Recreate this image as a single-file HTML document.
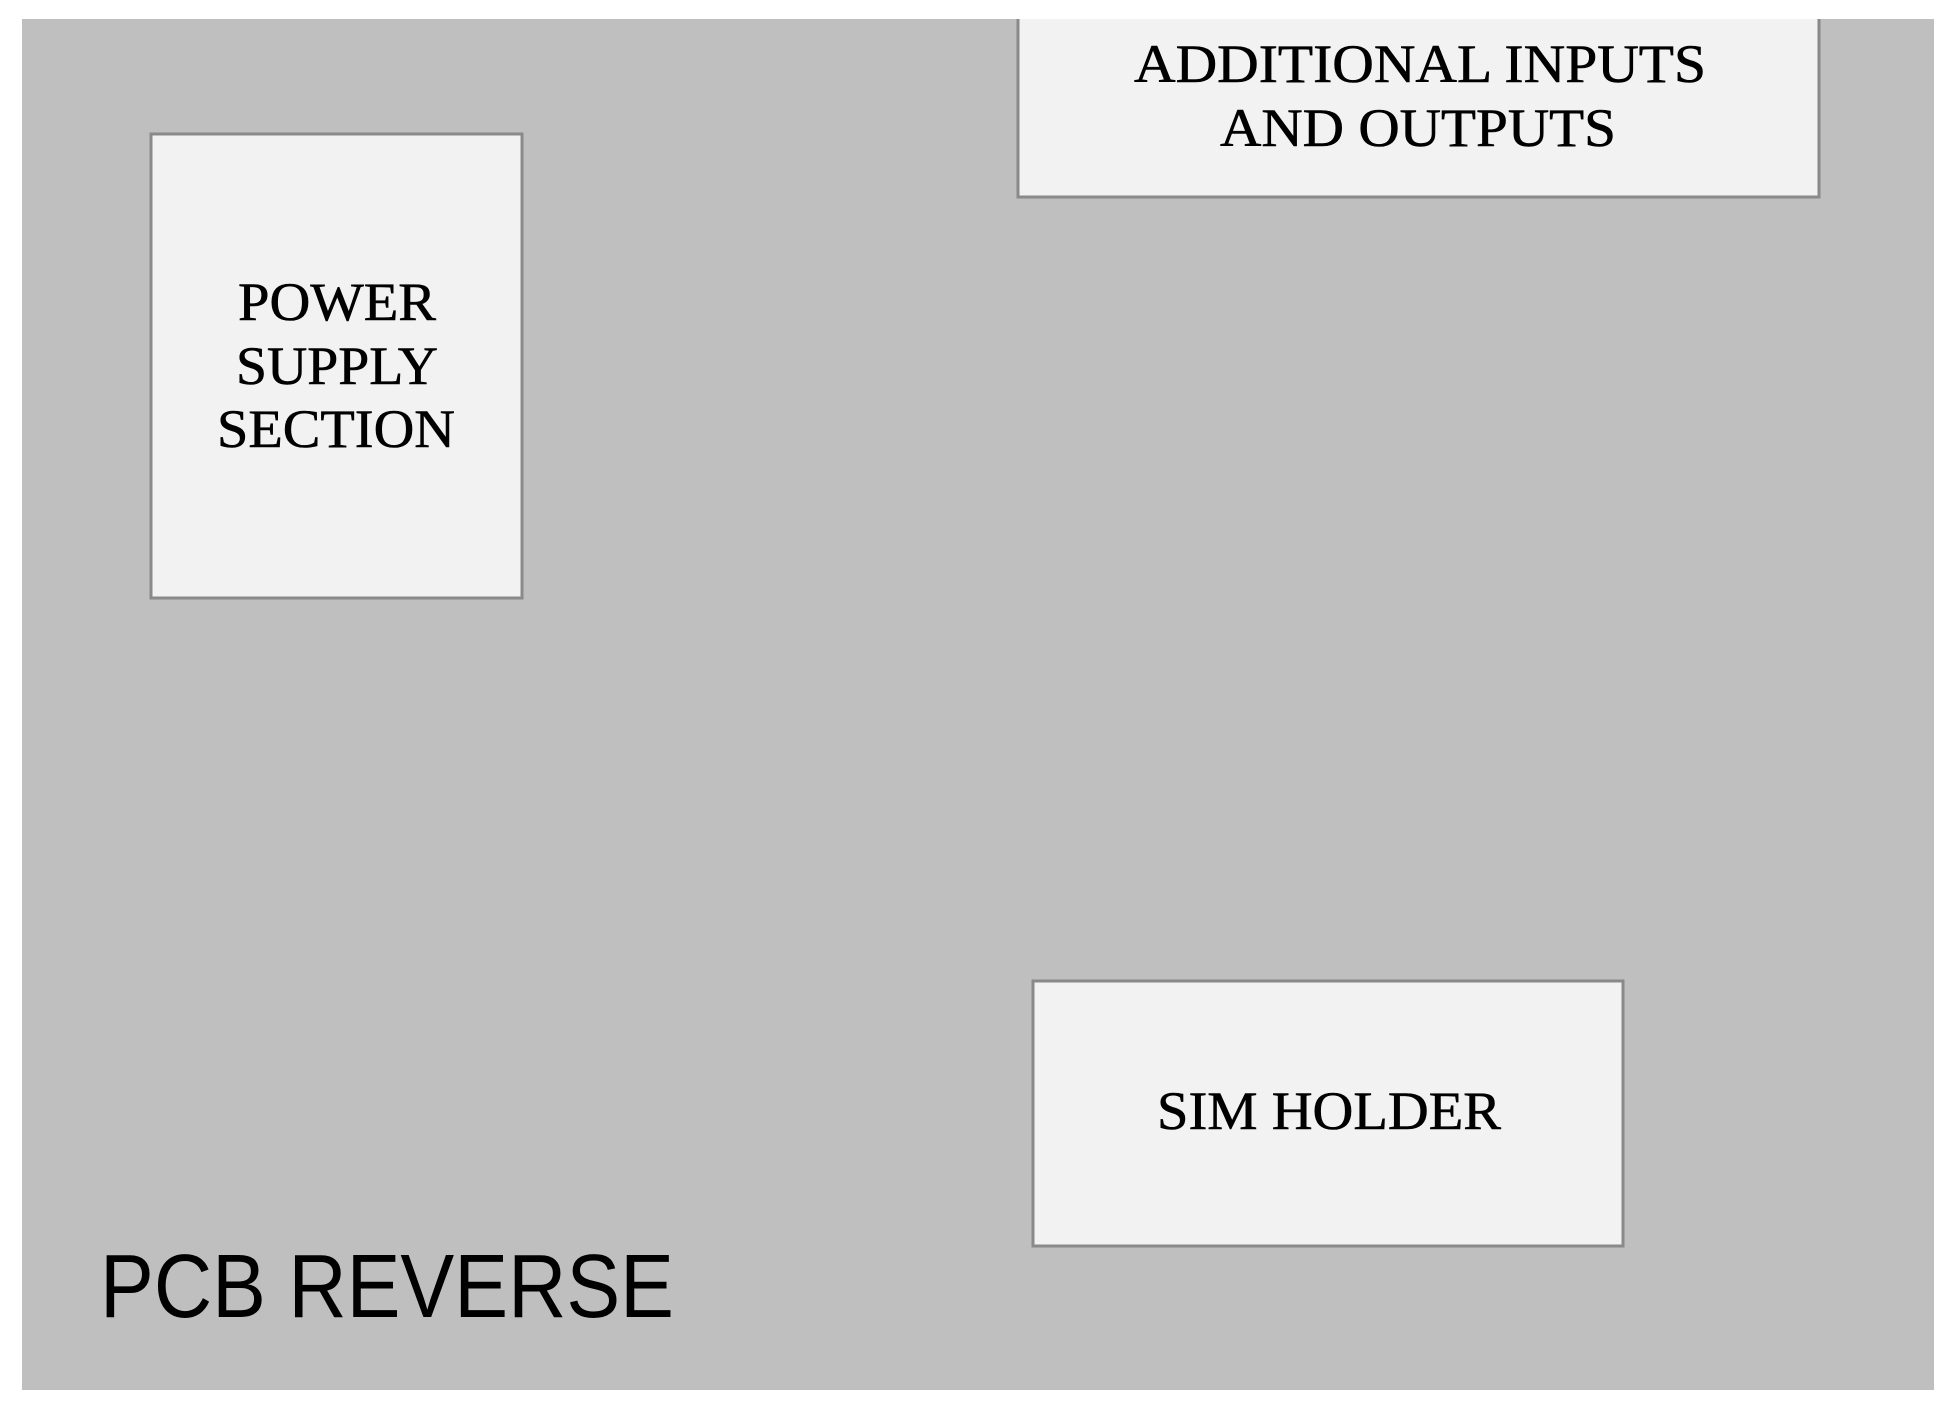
<!DOCTYPE html>
<html><head><style>html,body{margin:0;padding:0;background:#fff;width:1950px;height:1413px;overflow:hidden}</style></head>
<body>
<svg width="1950" height="1413" viewBox="0 0 1950 1413" xmlns="http://www.w3.org/2000/svg">
<rect x="22" y="19" width="1912" height="1371" fill="#bfbfbf"/>
<rect x="151" y="134" width="371" height="464" fill="#f2f2f2" stroke="#8a8a8a" stroke-width="3"/>
<rect x="1018" y="10" width="801" height="187" fill="#f2f2f2" stroke="#8a8a8a" stroke-width="3"/>
<rect x="1033" y="981" width="590" height="265" fill="#f2f2f2" stroke="#8a8a8a" stroke-width="3"/>
<rect x="1016" y="0" width="806" height="19" fill="#fff"/>
<g font-family="Liberation Serif, serif" font-size="54" fill="#000" stroke="#000" stroke-width="0.6" text-anchor="middle">
<text x="337" y="320" textLength="198" lengthAdjust="spacingAndGlyphs">POWER</text>
<text x="337" y="384" textLength="202" lengthAdjust="spacingAndGlyphs">SUPPLY</text>
<text x="336" y="447" textLength="238" lengthAdjust="spacingAndGlyphs">SECTION</text>
<text x="1420" y="82" textLength="572" lengthAdjust="spacingAndGlyphs">ADDITIONAL INPUTS</text>
<text x="1418" y="146" textLength="396" lengthAdjust="spacingAndGlyphs">AND OUTPUTS</text>
<text x="1329" y="1129" textLength="344" lengthAdjust="spacingAndGlyphs">SIM HOLDER</text>
</g>
<text x="100" y="1317" font-family="Liberation Sans, sans-serif" font-size="90" fill="#000" textLength="574" lengthAdjust="spacingAndGlyphs">PCB REVERSE</text>
</svg>
</body></html>
